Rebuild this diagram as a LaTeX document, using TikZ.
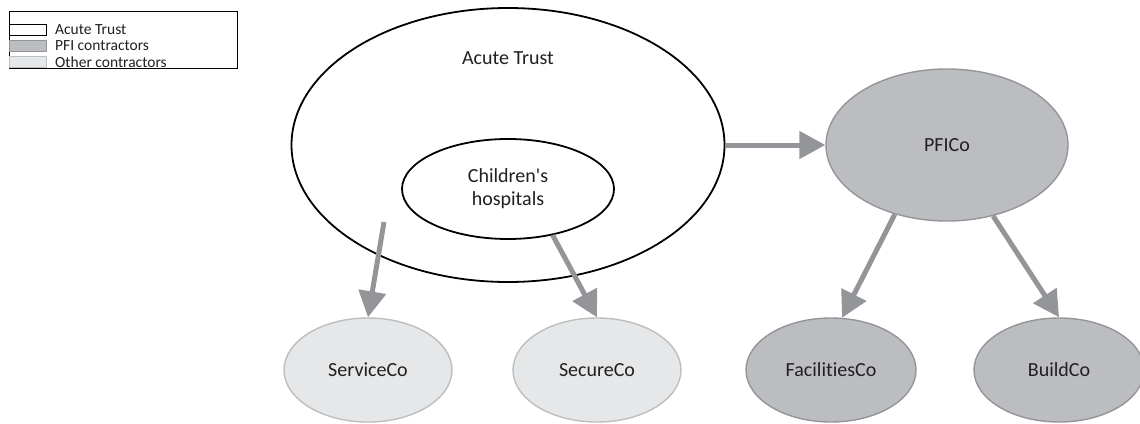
\documentclass[tikz,border=0pt]{standalone}
\usepackage{fontspec}
\setmainfont{Carlito}[Ligatures={NoCommon}]
\usetikzlibrary{arrows.meta,shapes.geometric}
\definecolor{pfifill}{HTML}{BCBDC0}
\definecolor{pfiline}{HTML}{939598}
\definecolor{othfill}{HTML}{E6E7E8}
\definecolor{othline}{HTML}{BCBEC0}
\definecolor{arrowgray}{HTML}{939598}
\definecolor{txt}{HTML}{231F20}
\tikzset{
  mainfont/.style={font=\fontsize{20}{23}\selectfont},
  trust/.style={ellipse, draw=black, line width=1.8pt, fill=white, inner sep=0pt, text=txt, mainfont, align=center},
  pfi/.style={ellipse, draw=pfiline, line width=1.4pt, fill=pfifill, inner sep=0pt, minimum width=170pt, minimum height=104pt, text=txt, mainfont},
  other/.style={ellipse, draw=othline, line width=1.4pt, fill=othfill, inner sep=0pt, minimum width=168pt, minimum height=104pt, text=txt, mainfont},
  link/.style={draw=arrowgray, line width=5pt, -{Triangle[length=26pt,width=27pt]}},
  swatch/.style={line width=0.7pt, minimum width=37pt, minimum height=11pt, inner sep=0pt},
  legtext/.style={anchor=west, inner sep=0pt, text=txt, font=\fontsize{15.5}{18}\selectfont}
}
\begin{document}
\begin{tikzpicture}[x=1pt,y=-1pt]
\useasboundingbox (0,0) rectangle (1140,423);
% legend
\node[draw=black, line width=0.8pt, minimum width=228pt, minimum height=57pt, inner sep=0pt, anchor=north west] (legend) at (9,11) {};
\node[swatch, draw=black, fill=white, anchor=west] (sw1) at (9,30) {};
\node[swatch, draw=pfiline, fill=pfifill, anchor=west] (sw2) at (9,46) {};
\node[swatch, draw=othline, fill=othfill, anchor=west] (sw3) at (9,62) {};
\node[legtext] (lt1) at (55,30) {Acute Trust};
\node[legtext] (lt2) at (55,46) {PFI contractors};
\node[legtext] (lt3) at (55,62) {Other contractors};
% main
\node[trust, minimum width=433pt, minimum height=274pt] (acute) at (508,145) {};
\node[text=txt, mainfont] (acutelbl) at (508,58) {Acute Trust};
\node[trust, minimum width=212pt, minimum height=100pt] (chil) at (508,189) {Children\textquotesingle s\\hospitals};
\node[pfi, minimum width=242pt, minimum height=152pt] (pfico) at (947,145) {PFICo};
\node[other] (serv) at (368,370) {ServiceCo};
\node[other] (secure) at (597,370) {SecureCo};
\node[pfi] (fac) at (831,370) {FacilitiesCo};
\node[pfi] (build) at (1059,370) {BuildCo};
\coordinate (s1) at (384,222);
\draw[link] (s1) -- (serv.north);
\draw[link] (chil.-46) -- (secure.north);
\draw[link] (acute.east) -- (pfico.west);
\draw[link] (pfico.-127) -- (fac.78);
\draw[link] (pfico.-57) -- (build.north);
\end{tikzpicture}
\end{document}
